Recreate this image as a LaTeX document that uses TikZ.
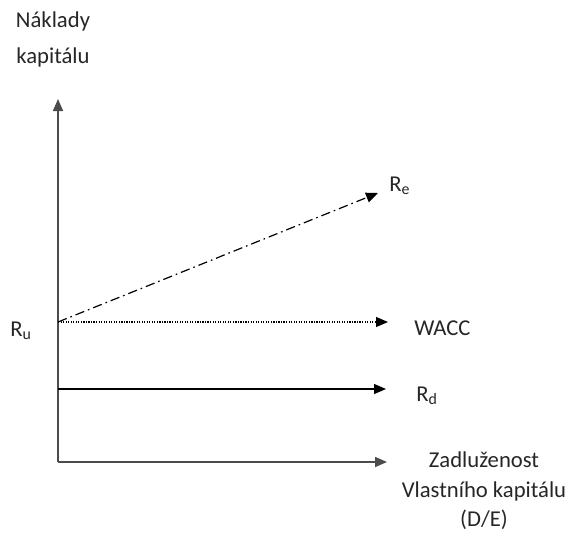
\documentclass[tikz,border=0pt]{standalone}
\usepackage{fontspec}
\setmainfont{Carlito}
\usetikzlibrary{arrows.meta}

\begin{document}
\begin{tikzpicture}[
      x = 0.75pt, y = -0.75pt,
      Line/.style = {draw, line width = 0.9pt, -{Triangle[length = 9pt, width = 7.5pt]}},
      Axis/.style = {Line, draw = black!70, line width = 1.2pt},
      Label/.style = {font = \fontsize{17}{20}\selectfont, text = black!85, inner sep = 0pt},
      AxisTitle/.style = {Label, align = center}
    ]
    \useasboundingbox (0,0) rectangle (571,533);

    \coordinate (O) at (58,462);
    \coordinate (Ytip) at (58,99);
    \coordinate (Xtip) at (387,462);
    \coordinate (U) at (58,322);
    \coordinate (E) at (378,193);
    \coordinate (W) at (388,322);
    \coordinate (D0) at (58,389);
    \coordinate (D) at (386,389);

    \node at (53,39) [AxisTitle](Y){Náklady\\[7pt]kapitálu};
    \node at (389,186) [Label, anchor = west](Re){R\textsubscript{e}};
    \node at (414,328) [Label, anchor = west](WACC){WACC};
    \node at (10,331) [Label, anchor = west](Ru){R\textsubscript{u}};
    \node at (416,396) [Label, anchor = west](Rd){R\textsubscript{d}};
    \node at (484,491) [AxisTitle](X){Zadluženost\\[2pt]Vlastního kapitálu\\[2pt](D/E)};

    \path [Axis] (O) -- (Ytip);
    \path [Axis] (O) -- (Xtip);
    \path [Line, dash pattern = on 7pt off 3pt on 1.2pt off 3pt] (U) -- (E);
    \path [Line, densely dotted] (U) -- (W);
    \path [Line] (D0) -- (D);
  \end{tikzpicture}
\end{document}
